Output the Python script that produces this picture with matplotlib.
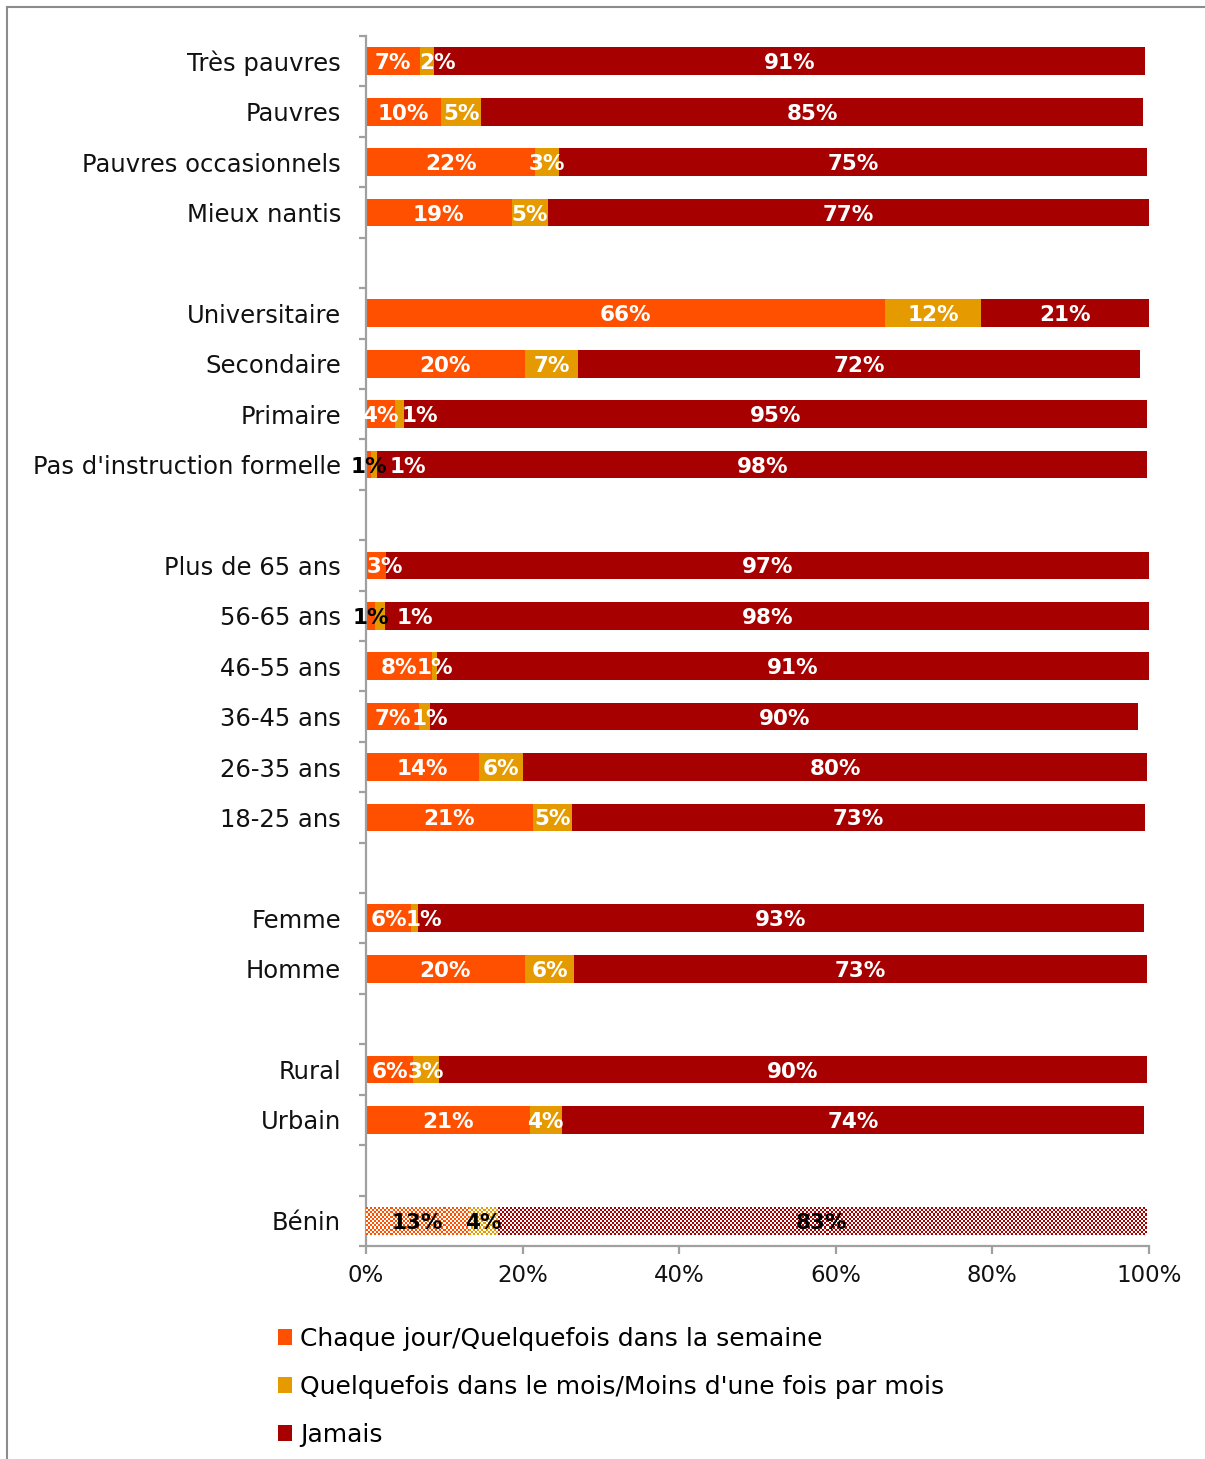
import numpy as np
import matplotlib.pyplot as plt
from matplotlib.patches import Patch
from matplotlib.lines import Line2D

# Fréquence par catégorie (en %)
groupes = [
    ["Très pauvres", "Pauvres", "Pauvres occasionnels", "Mieux nantis"],
    ["Universitaire", "Secondaire", "Primaire", "Pas d'instruction formelle"],
    ["Plus de 65 ans", "56-65 ans", "46-55 ans", "36-45 ans", "26-35 ans", "18-25 ans"],
    ["Femme", "Homme"],
    ["Rural", "Urbain"],
    ["Bénin"],
]
chaque_jour = [6.9, 9.6, 21.6, 18.6,
               66.3, 20.3, 3.7, 0.7,
               2.6, 1.15, 8.4, 6.8, 14.4, 21.3,
               5.8, 20.3,
               6.0, 20.9,
               13.2]
quelquefois = [1.85, 5.1, 3.0, 4.6,
               12.3, 6.8, 1.1, 0.7,
               0.0, 1.3, 0.7, 1.4, 5.7, 5.0,
               0.8, 6.3,
               3.3, 4.1,
               3.6]
jamais = [90.7, 84.6, 75.2, 76.8,
          21.4, 71.7, 94.9, 98.4,
          97.4, 97.6, 90.9, 90.4, 79.6, 73.2,
          92.8, 73.1,
          90.4, 74.4,
          82.8]
series = ["Chaque jour/Quelquefois dans la semaine",
          "Quelquefois dans le mois/Moins d'une fois par mois",
          "Jamais"]
couleurs = ["#FF5000", "#E59B00", "#A60000"]

FONT = "DejaVu Sans"
plt.rcParams["font.family"] = FONT

# positions : une case vide entre chaque groupe
categories, ypos = [], []
pos = 0
for g in groupes:
    for c in g:
        categories.append(c)
        ypos.append(pos)
        pos += 1
    pos += 1
nslots = pos - 1
ypos = np.array(ypos)

fig = plt.figure(figsize=(12.05, 14.59), dpi=100)
ax = fig.add_axes([0.3037, 0.146, 0.6498, 0.8293])

# déplacements manuels de certaines étiquettes (ligne, série) -> décalage en %
decalage = {(0, 1): 1.3, (6, 1): 2.65, (7, 1): 4.3, (8, 0): 1.1,
            (9, 1): 4.5, (11, 1): 0.7, (14, 1): 1.2}
etiquette_noire = {(7, 0), (9, 0)}

gauche = np.zeros(len(categories))
barres = []
for k, vals in enumerate([chaque_jour, quelquefois, jamais]):
    vals = np.array(vals)
    b = ax.barh(ypos, vals, left=gauche, height=0.55, color=couleurs[k],
                edgecolor="none", label=series[k], zorder=2)
    barres.append(b)
    for i, (v, l0) in enumerate(zip(vals, gauche)):
        if v <= 0:
            continue
        x = l0 + v / 2 + decalage.get((i, k), 0)
        benin = categories[i] == "Bénin"
        col = "black" if (benin or (i, k) in etiquette_noire) else "white"
        ax.text(x, ypos[i] + 0.04, f"{v:.0f}%", ha="center", va="center",
                color=col, fontsize=15.5, fontweight="bold", zorder=5)
    gauche = gauche + vals

ax.set_xlim(0, 100)
ax.set_ylim(nslots - 0.5, -0.5)

# trame damier pour la ligne Bénin
fig.canvas.draw()
ib = categories.index("Bénin")
for k, b in enumerate(barres):
    p = b.patches[ib]
    x0, y0, w, h = p.get_x(), p.get_y(), p.get_width(), p.get_height()
    (px0, py0), (px1, py1) = ax.transData.transform([(x0, y0), (x0 + w, y0 + h)])
    nx = max(int(abs(px1 - px0) / 2), 1)
    ny = max(int(abs(py1 - py0) / 2), 1)
    jj, ii = np.meshgrid(np.arange(nx), np.arange(ny))
    rgb = np.array(plt.matplotlib.colors.to_rgb(couleurs[k]))
    img = np.ones((ny, nx, 3))
    img[(ii + jj) % 2 == 0] = rgb
    p.set_facecolor("none")
    ax.imshow(img, extent=(x0, x0 + w, y0 + h, y0), aspect="auto",
              interpolation="nearest", zorder=3)
ax.set_xlim(0, 100)
ax.set_ylim(nslots - 0.5, -0.5)

gris = "#A0A0A0"
for s in ["top", "right"]:
    ax.spines[s].set_visible(False)
for s in ["left", "bottom"]:
    ax.spines[s].set_color(gris)
    ax.spines[s].set_linewidth(1.6)

ax.set_xticks(np.arange(0, 101, 20))
ax.set_xticklabels([f"{t}%" for t in range(0, 101, 20)])
ax.tick_params(axis="x", colors=gris, length=6, width=1.6, pad=7,
               labelcolor="#111111", labelsize=16.5)
ax.set_yticks(ypos)
ax.set_yticklabels(categories)
ax.tick_params(axis="y", length=0, pad=18, labelcolor="#111111", labelsize=17.5)
ax.set_yticks(np.arange(-0.5, nslots, 1), minor=True)
ax.tick_params(axis="y", which="minor", length=5, width=1.6, colors=gris)

poignees = [Patch(facecolor=c, edgecolor="none") for c in couleurs]
fig.legend(poignees, series, loc="upper left", bbox_to_anchor=(0.222, 0.0975),
           frameon=False, fontsize=18, handlelength=0.58, handleheight=0.58,
           handletextpad=0.32, labelspacing=0.96, borderaxespad=0)

# cadre du graphique
fig.add_artist(Line2D([7.5 / 1205, 7.5 / 1205], [0, 1 - 6.5 / 1459],
                      color="#8C8C8C", lw=1.5))
fig.add_artist(Line2D([7.5 / 1205, 1], [1 - 6.5 / 1459, 1 - 6.5 / 1459],
                      color="#8C8C8C", lw=1.5))

fig.savefig("out.png", dpi=100)
